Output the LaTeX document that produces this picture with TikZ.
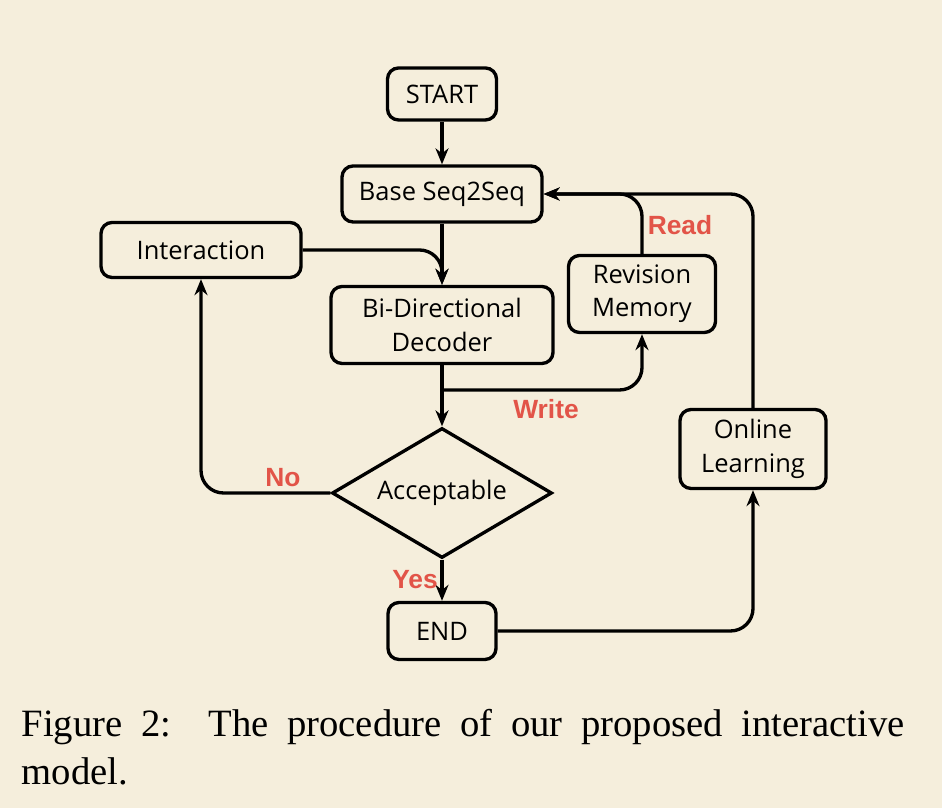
\documentclass[tikz,border=0pt]{standalone}
\usepackage{fontspec}
\setmainfont{Liberation Serif}
\newfontfamily\boxfont{Open Sans}
\newfontfamily\labfont{Liberation Sans}
\usetikzlibrary{arrows.meta,shapes.geometric}
\definecolor{paper}{RGB}{245,238,220}
\definecolor{labred}{RGB}{226,84,72}

\begin{document}
\begin{tikzpicture}[
	line width=1.9pt,
	box/.style={draw,rounded corners=.22cm,align=center,inner sep=0pt,font=\boxfont\fontsize{14.5}{19}\selectfont},
	arr/.style={-{Stealth[length=.32cm,width=.26cm]},rounded corners=.45cm},
	lab/.style={text=labred,font=\labfont\bfseries\fontsize{15}{17}\selectfont}
	]
	\fill[paper] (0,0) rectangle (18.84,16.16);
	\path
	(8.84,14.28) node[box,minimum width=2.18cm,minimum height=1.04cm] (start) {START}
	(8.84,12.28) node[box,minimum width=4cm,minimum height=1.12cm] (base) {Base Seq2Seq}
	(4.02,11.16) node[box,minimum width=4cm,minimum height=1.1cm] (inter) {Interaction}
	(8.84,9.66) node[box,minimum width=4.44cm,minimum height=1.54cm] (dec) {Bi-Directional\\Decoder}
	(12.84,10.28) node[box,minimum width=2.94cm,minimum height=1.54cm] (rev) {Revision\\Memory}
	(8.84,6.3) node[box,diamond,aspect=1.7,rounded corners=0pt,minimum width=4.4cm,minimum height=2.6cm] (acc) {Acceptable}
	(8.84,3.54) node[box,minimum width=2.16cm,minimum height=1.14cm] (fin) {END}
	(15.06,7.18) node[box,minimum width=2.92cm,minimum height=1.58cm] (onl) {Online\\Learning}
	(8.84,8.36) coordinate (wr)
	;
	\draw[arr] (start)--(base);
	\draw[arr] (base)--(dec);
	\draw[arr] (inter)-|(dec);
	\draw[arr] (dec)--(acc);
	\draw[arr] (wr)-|(rev);
	\draw[arr] (rev)|-(base);
	\draw[arr] (onl)|-(base);
	\draw[arr] (acc)-|(inter);
	\draw[arr] (acc)--(fin);
	\draw[arr] (fin)-|(onl);
	\foreach \n/\t/\p in {read/Read/{13.6,11.66},write/Write/{10.92,7.98},no/No/{5.66,6.6},yes/Yes/{8.3,4.56}} \node[lab] (\n) at (\p) {\t};
	\node[anchor=north west,inner sep=0pt,text width=17.66cm,align=justify,font=\fontsize{22}{27.3}\selectfont] (cap) at (0.4,2.0) {Figure 2:\ \ The procedure of our proposed interactive\linebreak model.};
\end{tikzpicture}
\end{document}
